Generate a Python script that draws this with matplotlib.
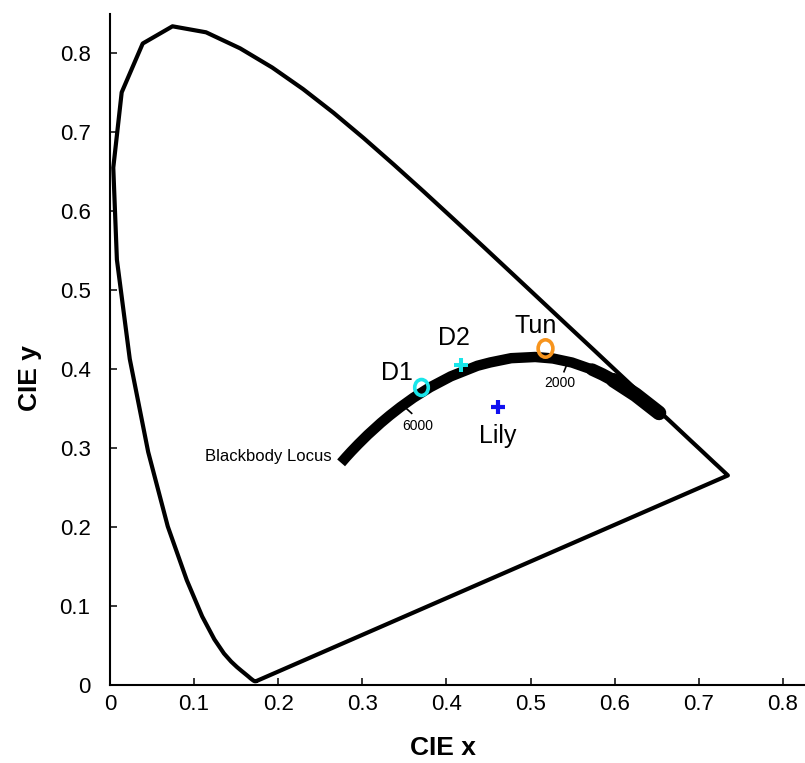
import matplotlib
matplotlib.use("Agg")
import matplotlib.pyplot as plt
from matplotlib.path import Path
from matplotlib.transforms import Affine2D

plt.rcParams['font.family'] = ['Liberation Sans', 'DejaVu Sans']

# CIE 1931 spectral locus (x, y), 380-700 nm
locus_x = [0.1741, 0.1740, 0.1738, 0.1736, 0.1733, 0.1730, 0.1726, 0.1721, 0.1714, 0.1703,
           0.1689, 0.1669, 0.1644, 0.1611, 0.1566, 0.1510, 0.1440, 0.1355, 0.1241, 0.1096,
           0.0913, 0.0687, 0.0454, 0.0235, 0.0082, 0.0039, 0.0139, 0.0389, 0.0743, 0.1142,
           0.1547, 0.1929, 0.2296, 0.2658, 0.3016, 0.3373, 0.3731, 0.4087, 0.4441, 0.4788,
           0.5125, 0.5448, 0.5752, 0.6029, 0.6270, 0.6482, 0.6658, 0.6801, 0.6915, 0.7006,
           0.7079, 0.7140, 0.7190, 0.7230, 0.7260, 0.7283, 0.7300, 0.7311, 0.7320, 0.7327,
           0.7334, 0.7340, 0.7344, 0.7346, 0.7347]
locus_y = [0.0050, 0.0050, 0.0049, 0.0049, 0.0048, 0.0048, 0.0048, 0.0048, 0.0051, 0.0058,
           0.0069, 0.0086, 0.0109, 0.0138, 0.0177, 0.0227, 0.0297, 0.0399, 0.0578, 0.0868,
           0.1327, 0.2007, 0.2950, 0.4127, 0.5384, 0.6548, 0.7502, 0.8120, 0.8338, 0.8262,
           0.8059, 0.7816, 0.7543, 0.7243, 0.6923, 0.6589, 0.6245, 0.5896, 0.5547, 0.5202,
           0.4866, 0.4544, 0.4242, 0.3965, 0.3725, 0.3514, 0.3340, 0.3197, 0.3083, 0.2993,
           0.2920, 0.2859, 0.2809, 0.2770, 0.2740, 0.2717, 0.2700, 0.2689, 0.2680, 0.2673,
           0.2666, 0.2660, 0.2656, 0.2654, 0.2653]

# Blackbody (Planckian) locus, ~11000 K down to 1000 K
bb_x = [0.2748, 0.2807, 0.2869, 0.2952, 0.3064, 0.3221, 0.3325, 0.3451, 0.3608, 0.3805,
        0.4053, 0.4369, 0.4521, 0.4770, 0.5056, 0.5267, 0.5493, 0.5732, 0.5857, 0.5985,
        0.6251, 0.6528]
bb_y = [0.2812, 0.2884, 0.2956, 0.3048, 0.3166, 0.3318, 0.3411, 0.3516, 0.3636, 0.3768,
        0.3907, 0.4041, 0.4083, 0.4137, 0.4152, 0.4133, 0.4082, 0.3993, 0.3931, 0.3858,
        0.3674, 0.3444]

# temperature tick marks on the locus
temp_labels = ['6000', '2000']
temp_tick_x0 = [0.3508, 0.5438]
temp_tick_y0 = [0.3515, 0.4072]
temp_tick_x1 = [0.3587, 0.5398]
temp_tick_y1 = [0.3439, 0.3966]
temp_label_x = [0.3659, 0.5345]
temp_label_y = [0.3228, 0.3768]

# measured sources
src_names = ['D1', 'D2', 'Tun', 'Lily']
src_x = [0.3694, 0.4174, 0.5168, 0.4610]
src_y = [0.3772, 0.4050, 0.4262, 0.3523]
src_label_x = [0.3413, 0.4087, 0.5063, 0.4605]
src_label_y = [0.3861, 0.4304, 0.4459, 0.3067]

x_ticks = [0, 0.1, 0.2, 0.3, 0.4, 0.5, 0.6, 0.7, 0.8]
y_ticks = [0, 0.1, 0.2, 0.3, 0.4, 0.5, 0.6, 0.7, 0.8]

fig = plt.figure(figsize=(8.05, 7.63), dpi=100)
ax = fig.add_axes([110/805, 78/763, 695/805, 671/763])

# spectral locus closed with the purple line
ax.plot(locus_x + [locus_x[0]], locus_y + [locus_y[0]], color='black', lw=3,
        solid_joinstyle='round', solid_capstyle='round', zorder=2)

# blackbody locus
ax.plot(bb_x, bb_y, color='black', lw=7.5, solid_capstyle='butt', zorder=3)
ax.plot(bb_x[-5:], bb_y[-5:], color='black', lw=9, solid_capstyle='round',
        solid_joinstyle='round', zorder=3)
ax.plot(bb_x[-3:], bb_y[-3:], color='black', lw=10.5, solid_capstyle='round',
        solid_joinstyle='round', zorder=3)
ax.text(0.2636, 0.2835, 'Blackbody Locus', fontsize=12, ha='right', va='baseline')

for lab, x0, y0, x1, y1, lx, ly in zip(temp_labels, temp_tick_x0, temp_tick_y0,
                                        temp_tick_x1, temp_tick_y1, temp_label_x, temp_label_y):
    ax.plot([x0, x1], [y0, y1], color='black', lw=1.2, zorder=3)
    ax.text(lx, ly, lab, fontsize=10, ha='center', va='baseline')

ell = Path.unit_circle().transformed(Affine2D().scale(0.85, 1.0))
styles = {
    'D1': dict(marker=ell, ms=11.5, mew=2.6, mfc='none', mec='#19e6ea'),
    'D2': dict(marker='+', ms=10, mew=2.9, mec='#19e6ea'),
    'Tun': dict(marker=ell, ms=12.5, mew=2.6, mfc='none', mec='#f7941d'),
    'Lily': dict(marker='+', ms=10.5, mew=3.0, mec='#1010f0'),
}
for name, x, y, lx, ly in zip(src_names, src_x, src_y, src_label_x, src_label_y):
    ax.plot([x], [y], linestyle='none', zorder=5, **styles[name])
    ax.text(lx, ly, name, fontsize=18, ha='center', va='baseline', zorder=6)

ax.set_xlim(0, 695/841)
ax.set_ylim(0, 671/790)
ax.set_xticks(x_ticks)
ax.set_yticks(y_ticks)
ax.set_xticklabels([f'{t:g}' for t in x_ticks])
ax.set_yticklabels([f'{t:g}' for t in y_ticks])
ax.tick_params(axis='x', direction='in', length=5, width=1.1, labelsize=16, pad=6.5)
ax.tick_params(axis='y', direction='in', length=5, width=1.1, labelsize=16, pad=14)
for s in ['top', 'right']:
    ax.spines[s].set_visible(False)
for s in ['left', 'bottom']:
    ax.spines[s].set_linewidth(1.5)

ax.set_xlabel('CIE x', fontsize=19, fontweight='bold')
ax.set_ylabel('CIE y', fontsize=19, fontweight='bold')
ax.xaxis.set_label_coords(0.479, -0.076)
ax.yaxis.set_label_coords(-0.0974, 0.4575)

fig.savefig('out.png', dpi=100)
